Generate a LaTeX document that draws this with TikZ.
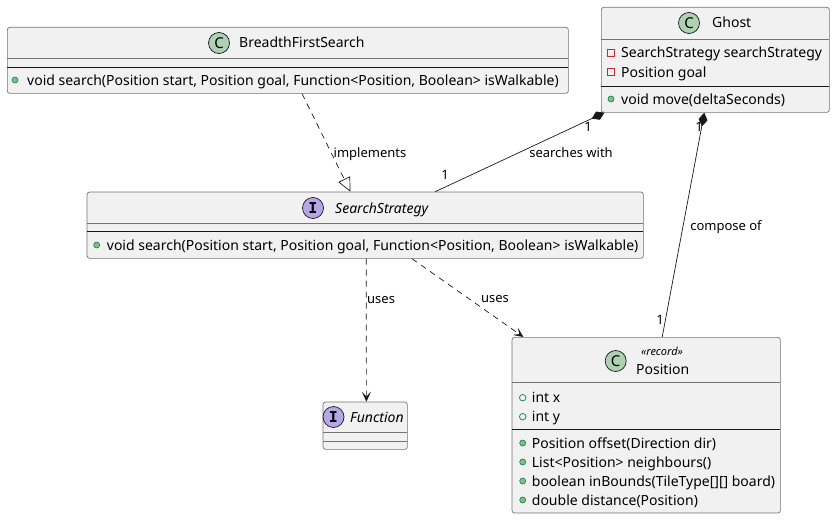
\documentclass[tikz,border=0pt]{standalone}
\usepackage{fontspec}
\setmainfont{Noto Sans}
\newfontfamily\iconfont{DejaVu Sans Mono}
\usetikzlibrary{arrows.meta}

\definecolor{boxfill}{HTML}{F1F1F1}
\definecolor{boxline}{HTML}{181818}
\definecolor{classicon}{HTML}{ADD1B2}
\definecolor{ifaceicon}{HTML}{B4A7E5}
\definecolor{pubfill}{HTML}{84BE84}
\definecolor{publine}{HTML}{038048}
\definecolor{privline}{HTML}{C82930}

\tikzset{
  umlbox/.style = {draw=boxline!60, fill=boxfill, rounded corners=2.5pt, line width=0.7pt,
                   inner sep=0pt, anchor=north west},
  headsep/.style= {draw=boxline!60, line width=0.7pt},
  sep/.style    = {draw=boxline, line width=0.8pt},
  cicon/.style  = {circle, draw=boxline, line width=0.7pt, fill=classicon, minimum size=21pt,
                   inner sep=0pt, font=\bfseries\fontsize{15}{15}\selectfont},
  iicon/.style  = {cicon, fill=ifaceicon, font=\iconfont\bfseries\fontsize{15}{15}\selectfont},
  title/.style  = {anchor=west, inner sep=0pt, text height=11pt, text depth=1pt,
                   font=\fontsize{14}{16}\selectfont},
  ititle/.style = {title, font=\itshape\fontsize{14}{16}\selectfont},
  member/.style = {anchor=west, inner sep=0pt, text height=11pt, text depth=1pt,
                   font=\fontsize{14}{16}\selectfont},
  pubmeth/.style  = {circle, draw=publine, fill=pubfill, line width=0.6pt, minimum size=6pt, inner sep=0pt},
  pubfield/.style = {circle, draw=publine, fill=none, line width=0.7pt, minimum size=6.5pt, inner sep=0pt},
  privfield/.style= {rectangle, draw=privline, fill=none, line width=0.7pt, minimum size=7pt, inner sep=0pt},
  lbl/.style    = {inner sep=0pt, text height=10pt, text depth=1pt, font=\fontsize{13}{15}\selectfont},
  realize/.style= {draw=boxline, line width=0.7pt, dash pattern=on 6pt off 5pt,
                   -{Triangle[open, length=14pt, width=13pt]}},
  compose/.style= {draw=boxline, line width=0.7pt, {Diamond[length=14pt, width=9pt]}-},
  depend/.style = {draw=boxline, line width=0.7pt, dash pattern=on 6pt off 5pt,
                   -{Stealth[length=10pt, width=9pt, inset=5pt]}}
}

\begin{document}
\begin{tikzpicture}[x=1pt, y=-1pt]
\useasboundingbox (0,0) rectangle (834,519);

% BreadthFirstSearch
\begin{scope}[shift={(7,27)}]
\node[umlbox, minimum width=561pt, minimum height=66pt] (bfs) at (0,0) {};
\node[cicon] (bfsicon) at (212,16) {C};
\node[title] (bfsname) at (232,16) {BreadthFirstSearch};
\draw[headsep] (0,31) -- (561,31);
\draw[sep] (0,40) -- (561,40);
\node[pubmeth] (bfsdot) at (8,53) {};
\node[member] (bfsm) at (20,53) {void search(Position start, Position goal, Function<Position, Boolean> isWalkable)};
\end{scope}

% Ghost
\begin{scope}[shift={(601,7)}]
\node[umlbox, minimum width=228pt, minimum height=105pt] (ghost) at (0,0) {};
\node[cicon] (ghosticon) at (88,16) {C};
\node[title] (ghostname) at (111,16) {Ghost};
\draw[headsep] (0,32) -- (228,32);
\node[privfield] (ghostdota) at (10,46) {};
\node[member] (ghosta) at (20,46) {SearchStrategy searchStrategy};
\node[privfield] (ghostdotb) at (10,65) {};
\node[member] (ghostb) at (20,65) {Position goal};
\draw[sep] (0,79) -- (228,79);
\node[pubmeth] (ghostdotm) at (10,92) {};
\node[member] (ghostm) at (20,92) {void move(deltaSeconds)};
\end{scope}

% SearchStrategy
\begin{scope}[shift={(86.7,191.7)}]
\node[umlbox, minimum width=556.3pt, minimum height=66.3pt] (ss) at (0,0) {};
\node[iicon] (ssicon) at (226.3,16.3) {I};
\node[ititle] (ssname) at (248.3,16.3) {SearchStrategy};
\draw[headsep] (0,31.3) -- (556.3,31.3);
\draw[sep] (0,40) -- (556.3,40);
\node[pubmeth] (ssdot) at (10,53.3) {};
\node[member] (ssm) at (20,53.3) {void search(Position start, Position goal, Function<Position, Boolean> isWalkable)};
\end{scope}

% Function
\begin{scope}[shift={(322.7,401.7)}]
\node[umlbox, minimum width=84.3pt, minimum height=47.3pt] (func) at (0,0) {};
\node[iicon] (funcicon) at (10.8,15.3) {I};
\node[ititle] (funcname) at (27.3,15.3) {Function};
\draw[headsep] (0,31) -- (84.3,31);
\draw[headsep] (0,40) -- (84.3,40);
\end{scope}

% Position
\begin{scope}[shift={(511.7,337)}]
\node[umlbox, minimum width=268.3pt, minimum height=175.7pt] (pos) at (0,0) {};
\node[cicon] (posicon) at (104,24) {C};
\node[inner sep=0pt, font=\itshape\fontsize{11}{13}\selectfont] (posstereo) at (150.3,14) {«record»};
\node[title] (posname) at (124.3,32) {Position};
\draw[headsep] (0,45.3) -- (268.3,45.3);
\node[pubfield] (posdotx) at (11,60.7) {};
\node[member] (posx) at (20,60.7) {int x};
\node[pubfield] (posdoty) at (11,79.7) {};
\node[member] (posy) at (20,79.7) {int y};
\draw[sep] (0,92.3) -- (268.3,92.3);
\foreach \txt [count=\i] in {Position offset(Direction dir), List<Position> neighbours(),
    boolean inBounds(TileType[][] board), double distance(Position)} {
  \node[pubmeth] (posdotm\i) at (11,87+19*\i) {};
  \node[member] (posm\i) at (20,87+19*\i) {\txt};
}
\end{scope}

% connectors
\draw[realize] ([xshift=14.2pt]bfs.south) -- ([xshift=-14.8pt]ss.north);
\draw[compose] ([xshift=-111pt]ghost.south) -- ([xshift=70pt]ss.north);
\draw[compose] ([xshift=-11pt]ghost.south) -- ([xshift=16pt]pos.north);
\draw[depend] ([xshift=1pt]ss.south) -- ([xshift=1.2pt]func.north);
\draw[depend] ([xshift=46.8pt]ss.south) -- ([xshift=-122.8pt]pos.north);

% labels
\node[lbl] (implbl) at (370,153) {implements};
\node[lbl] (srchlbl) at (571,153) {searches with};
\node[lbl] (srchone) at (588,127) {1};
\node[lbl] (srchtwo) at (445,175) {1};
\node[lbl] (compone) at (699,127) {1};
\node[lbl] (comptwo) at (660,320) {1};
\node[lbl] (complbl) at (726,226) {compose of};
\node[lbl, anchor=west] (usesone) at (367,299) {uses};
\node[lbl] (usestwo) at (495,298) {uses};

\end{tikzpicture}
\end{document}
